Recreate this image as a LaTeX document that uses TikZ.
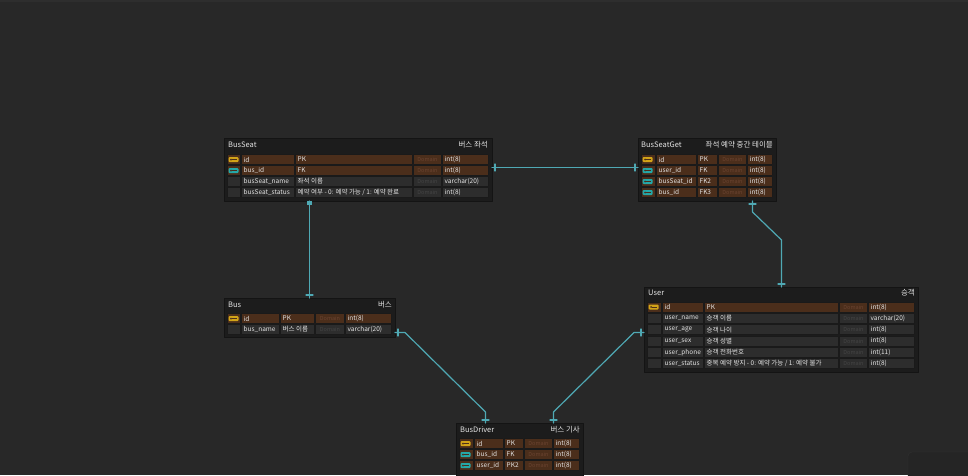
\documentclass[tikz,border=0pt]{standalone}
\usepackage{fontspec}
\setmainfont{Noto Sans CJK KR}
\usetikzlibrary{calc,decorations.markings}

\definecolor{bg}{HTML}{282828}
\definecolor{topstrip}{HTML}{2E2E2E}
\definecolor{panelfill}{HTML}{252525}
\definecolor{panelline}{HTML}{303030}
\definecolor{framefill}{HTML}{1C1C1C}
\definecolor{frameline}{HTML}{141414}
\definecolor{cellline}{HTML}{1A1A1A}
\definecolor{fillpk}{HTML}{4B2E1B}
\definecolor{fillfk}{HTML}{4B2E1B}
\definecolor{fillno}{HTML}{2D2D2D}
\definecolor{iconpk}{HTML}{D2A418}
\definecolor{iconfk}{HTML}{24A8A8}
\definecolor{iconno}{HTML}{2D2D2D}
\definecolor{dompk}{HTML}{6A4330}
\definecolor{domfk}{HTML}{6A4330}
\definecolor{domno}{HTML}{444444}
\definecolor{txt}{HTML}{E4E4E4}
\definecolor{relc}{HTML}{4FA9B4}

\newcommand{\reltick}{\draw[color=relc, line width=1.1pt] (0pt,-3.5pt)--(0pt,3.5pt);}

\tikzset{
  frame/.style={draw=frameline, fill=framefill, line width=0.8pt, inner sep=0pt, outer sep=0pt, anchor=north west},
  hd/.style={text=txt, font=\fontsize{7.5}{8}\selectfont, inner sep=0pt},
  cell/.style={text=txt, font=\fontsize{6.5}{7}\selectfont, inner sep=0pt, anchor=west},
  dom/.style={font=\fontsize{5.5}{6}\selectfont, inner sep=0pt},
  rel/.style={color=relc, draw=relc, line width=1.2pt, postaction={decorate, decoration={markings,
      mark=at position 3pt with {\reltick}, mark=at position -3pt with {\reltick}}}},
  relsq/.style={color=relc, draw=relc, line width=1.2pt, postaction={decorate, decoration={markings,
      mark=at position 2pt with {\fill[color=relc] (-2pt,-2.2pt) rectangle (2pt,2.2pt);},
      mark=at position -3pt with {\reltick}}}},
}

% one row of a table: prefix, top, kind (pk/fk/no), field, comment, type
\newcommand{\erdrow}[6]{%
  \foreach \xa/\xb in {\cA/\cB,\cB/\cC,\cC/\cD,\cD/\cE,\cE/\cF}
    \filldraw[fill=fill#3, draw=cellline, line width=0.6pt] (\xa+0.4,#2+0.4) rectangle (\xb-0.4,#2+10.6);
  \fill[fill=icon#3, rounded corners=1pt] (\cA+1.5,#2+3) rectangle (\cA+11.5,#2+8);
  \fill[fill=fill#3] (\cA+4,#2+5.5) circle (1pt);
  \fill[fill=fill#3] (\cA+5,#2+5) rectangle (\cA+10,#2+6);
  \node[cell] (#1-n) at (\cB+2.5,#2+5.5) {#4};
  \node[cell] (#1-c) at (\cC+2.5,#2+5.5) {#5};
  \node[dom, text=dom#3] (#1-d) at ({(\cD+\cE)/2},#2+5.5) {Domain};
  \node[cell] (#1-t) at (\cE+2.5,#2+5.5) {#6};
}

\begin{document}
\begin{tikzpicture}[x=1pt, y=-1pt, line join=round, line cap=round]
  \useasboundingbox (0,0) rectangle (968,475);
  \fill[bg] (0,0) rectangle (968,475);
  \fill[topstrip] (0,0) rectangle (968,2);
  \draw[panelline, fill=panelfill, rounded corners=4pt] (908,452) rectangle (990,500);

  %% BusSeat
  \node[frame, minimum width=268pt, minimum height=63pt] (busseat) at (224,138) {};
  \node[hd, anchor=west] (busseat-en) at (228,145) {BusSeat};
  \node[hd, anchor=east] (busseat-ko) at (488,145) {버스 좌석};
  \def\cA{227}\def\cB{241}\def\cC{295}\def\cD{413}\def\cE{442}\def\cF{489}
  \foreach \y/\k/\n/\c/\t [count=\i] in {154/pk/id/PK/int(8), 165/fk/bus\_id/FK/int(8),
      176/no/busSeat\_name/좌석 이름/varchar(20),
      187/no/busSeat\_status/{예약 여부 - 0: 예약 가능 / 1: 예약 완료}/int(8)}
    \erdrow{bs\i}{\y}{\k}{\n}{\c}{\t};

  %% BusSeatGet
  \node[frame, minimum width=138pt, minimum height=63pt] (busseatget) at (638,138) {};
  \node[hd, anchor=west] (busseatget-en) at (641,145) {BusSeatGet};
  \node[hd, anchor=east] (busseatget-ko) at (773,145) {좌석 예약 중간 테이블};
  \def\cA{641}\def\cB{656}\def\cC{697}\def\cD{718}\def\cE{747}\def\cF{773}
  \foreach \y/\k/\n/\c/\t [count=\i] in {154/pk/id/PK/int(8), 165/fk/user\_id/FK/int(8),
      176/fk/busSeat\_id/FK2/int(8), 187/fk/bus\_id/FK3/int(8)}
    \erdrow{bsg\i}{\y}{\k}{\n}{\c}{\t};

  %% Bus
  \node[frame, minimum width=171pt, minimum height=39pt] (bus) at (224,298) {};
  \node[hd, anchor=west] (bus-en) at (228,305) {Bus};
  \node[hd, anchor=east] (bus-ko) at (392,305) {버스};
  \def\cA{227}\def\cB{241}\def\cC{280}\def\cD{315}\def\cE{345}\def\cF{392}
  \foreach \y/\k/\n/\c/\t [count=\i] in {313/pk/id/PK/int(8), 324/no/bus\_name/버스 이름/varchar(20)}
    \erdrow{bus\i}{\y}{\k}{\n}{\c}{\t};

  %% User
  \node[frame, minimum width=274pt, minimum height=85pt] (user) at (644,287) {};
  \node[hd, anchor=west] (user-en) at (648,293) {User};
  \node[hd, anchor=east] (user-ko) at (915,293) {승객};
  \def\cA{647}\def\cB{662}\def\cC{704}\def\cD{839}\def\cE{868}\def\cF{915}
  \foreach \y/\k/\n/\c/\t [count=\i] in {301.5/pk/id/PK/int(8),
      312.8/no/user\_name/승객 이름/varchar(20), 324.1/no/user\_age/승객 나이/int(8),
      335.4/no/user\_sex/승객 성별/int(8), 346.7/no/user\_phone/승객 전화번호/int(11),
      358/no/user\_status/{중복 예약 방지 - 0: 예약 가능 / 1: 예약 불가}/int(8)}
    \erdrow{user\i}{\y}{\k}{\n}{\c}{\t};

  %% BusDriver
  \node[frame, minimum width=127pt, minimum height=55pt] (busdriver) at (456,423) {};
  \node[hd, anchor=west] (busdriver-en) at (460,430) {BusDriver};
  \node[hd, anchor=east] (busdriver-ko) at (580,430) {버스 기사};
  \def\cA{459}\def\cB{474}\def\cC{504}\def\cD{524}\def\cE{553}\def\cF{580}
  \foreach \y/\k/\n/\c/\t [count=\i] in {438/pk/id/PK/int(8), 449/fk/bus\_id/FK/int(8),
      460/fk/user\_id/PK2/int(8)}
    \erdrow{bd\i}{\y}{\k}{\n}{\c}{\t};

  %% relations
  \coordinate (bs-r) at ($(busseat.north east)+(0,29.5)$);
  \coordinate (bsg-l) at ($(busseatget.north west)+(0,29.5)$);
  \draw[rel] (bs-r) -- (bsg-l);

  \coordinate (bs-b) at ($(busseat.south west)+(85.5,0)$);
  \coordinate (bus-t) at ($(bus.north west)+(85.5,0)$);
  \draw[relsq] (bs-b) -- (bus-t);

  \coordinate (bsg-b) at ($(busseatget.south west)+(114.5,0)$);
  \coordinate (user-t) at ($(user.north west)+(137.5,0)$);
  \draw[rel] (bsg-b) -- ++(0,11) -- ($(user-t)+(0,-47)$) -- (user-t);

  \coordinate (bus-r) at ($(bus.north east)+(0,34.5)$);
  \coordinate (bd-t1) at ($(busdriver.north west)+(29.5,0)$);
  \draw[rel] (bus-r) -- ++(10,0) -- ($(bd-t1)+(0,-11)$) -- (bd-t1);

  \coordinate (user-l) at ($(user.north west)+(0,45.5)$);
  \coordinate (bd-t2) at ($(busdriver.north west)+(97.5,0)$);
  \draw[rel] (user-l) -- ++(-10,0) -- ($(bd-t2)+(0,-11)$) -- (bd-t2);
\end{tikzpicture}
\end{document}
